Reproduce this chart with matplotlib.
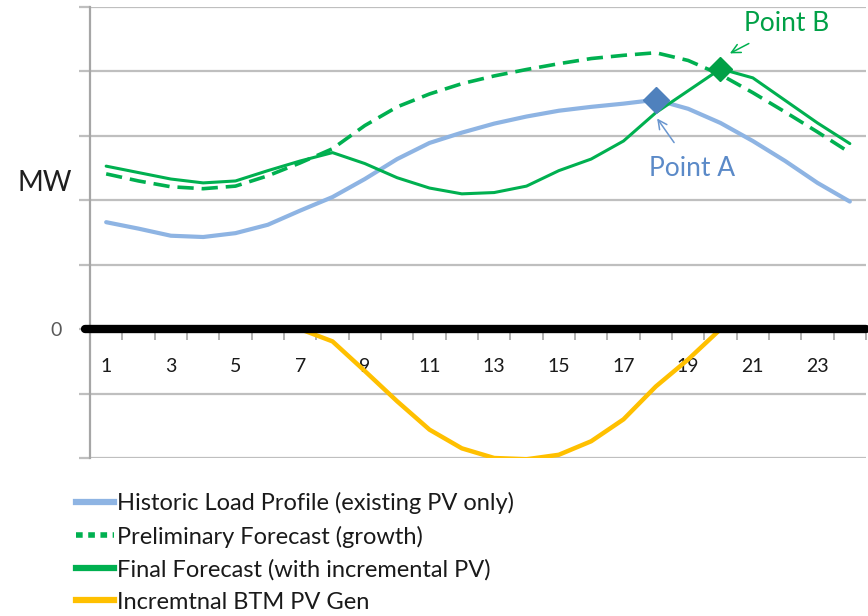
import matplotlib
matplotlib.use("Agg")
import matplotlib.pyplot as plt
from matplotlib.lines import Line2D

plt.rcParams['font.family'] = ['Lato', 'DejaVu Sans']

hours = list(range(1, 25))
historic = [1.66, 1.56, 1.45, 1.43, 1.49, 1.62, 1.84, 2.05, 2.33, 2.64, 2.89, 3.05,
            3.19, 3.30, 3.39, 3.45, 3.50, 3.56, 3.42, 3.20, 2.92, 2.61, 2.27, 1.98]
preliminary = [2.41, 2.30, 2.21, 2.18, 2.22, 2.38, 2.58, 2.80, 3.16, 3.45, 3.65, 3.81,
               3.93, 4.03, 4.12, 4.20, 4.25, 4.29, 4.17, 3.95, 3.67, 3.37, 3.06, 2.74]
final = [2.53, 2.43, 2.33, 2.27, 2.30, 2.46, 2.61, 2.74, 2.57, 2.35, 2.19, 2.10,
         2.12, 2.22, 2.46, 2.64, 2.92, 3.36, 3.70, 4.04, 3.90, 3.55, 3.20, 2.88]
pv_gen = [0, 0, 0, 0, 0, 0, 0, -0.19, -0.65, -1.12, -1.56, -1.85,
          -2.00, -2.02, -1.95, -1.74, -1.40, -0.89, -0.47, 0, 0, 0, 0, 0]
xtick_labels = [str(h) for h in range(1, 24, 2)]
point_a = (18, 3.56)
point_b = (20, 4.04)

labels = ["Historic Load Profile (existing PV only)",
          "Preliminary Forecast (growth)",
          "Final Forecast (with incremental PV)",
          "Incremtnal BTM PV Gen"]

c_blue = "#8EB4E3"
c_green = "#00B050"
c_yellow = "#FFC000"

fig = plt.figure(figsize=(8.68, 6.16), dpi=100)
ax = fig.add_axes([90/868, 1-458/616, (866-90)/868, (458-7)/616])

ax.set_xlim(0.5, 24.5)
ax.set_ylim(-2, 5)

# grid
for yv in range(-2, 6):
    ax.axhline(yv, color="#BFBFBF", lw=1.6, zorder=0)

ax.plot(hours, pv_gen, color=c_yellow, lw=3.2, zorder=2, solid_capstyle='round')
ax.plot(hours, historic, color=c_blue, lw=3.0, zorder=3, solid_capstyle='round')
ax.plot(hours, preliminary, color=c_green, lw=2.6, ls=(0, (4.5, 2.2)), zorder=4)
ax.plot(hours, final, color=c_green, lw=2.2, zorder=5, solid_capstyle='round')

# zero axis line
ax.plot([0.36, 24.5], [0, 0], color="black", lw=6.0, solid_capstyle='round',
        zorder=6, clip_on=False)

ax.plot([point_a[0]], [point_a[1]], marker='D', ms=13, color="#4F81BD", zorder=7)
ax.plot([point_b[0]], [point_b[1]], marker='D', ms=12, color="#00A046", zorder=7)

ax.annotate("Point A", xy=(18.04, 3.27), xytext=(19.12, 2.50), color="#5B8AC8",
            fontsize=19, ha='center', va='center', zorder=8,
            arrowprops=dict(arrowstyle='->', color="#6A96CF", lw=1.1,
                            shrinkA=9, shrinkB=0, mutation_scale=16))
ax.annotate("Point B", xy=(20.29, 4.28), xytext=(22.05, 4.74), color="#00A046",
            fontsize=19, ha='center', va='center', zorder=8,
            arrowprops=dict(arrowstyle='->', color=c_green, lw=1.1,
                            shrinkA=7, shrinkB=0, mutation_scale=16))

# spines
for s in ['top', 'right']:
    ax.spines[s].set_visible(False)
ax.spines['left'].set_color("#A6A6A6")
ax.spines['left'].set_linewidth(1.6)
ax.spines['bottom'].set_position(('data', 0))
ax.spines['bottom'].set_visible(False)

ax.set_yticks(range(-2, 6))
ax.set_yticklabels(['' if v != 0 else '0' for v in range(-2, 6)])
ax.tick_params(axis='y', length=8, width=1.6, color="#BFBFBF", labelsize=14,
               labelcolor="#595959", pad=12)

ax.set_xticks(range(1, 24, 2))
ax.set_xticklabels(xtick_labels)
ax.set_xticks([h + 0.5 for h in range(0, 25)], minor=True)
ax.tick_params(axis='x', which='major', length=0, pad=21, labelsize=14,
               labelcolor="#1A1A1A")
ax.tick_params(axis='x', which='minor', length=8, width=1.2, color="#A6A6A6",
               direction='out', pad=0)

fig.text(45/868, 1-183/616, "MW", fontsize=20, ha='center', va='center',
         color="#1F1F1F")

handles = [Line2D([], [], color=c_blue, lw=4.5),
           Line2D([], [], color=c_green, lw=4, ls=(0, (1.2, 1.0))),
           Line2D([], [], color=c_green, lw=4.5),
           Line2D([], [], color=c_yellow, lw=4.5)]
leg = fig.legend(handles, labels, loc='upper left',
                 bbox_to_anchor=(76/868, 1-492/616), frameon=False,
                 fontsize=17, handlelength=1.6, handletextpad=0.15,
                 labelspacing=0.48, borderaxespad=0, borderpad=0)
for t in leg.get_texts():
    t.set_color("#1A1A1A")

fig.savefig("out.png", dpi=100)
